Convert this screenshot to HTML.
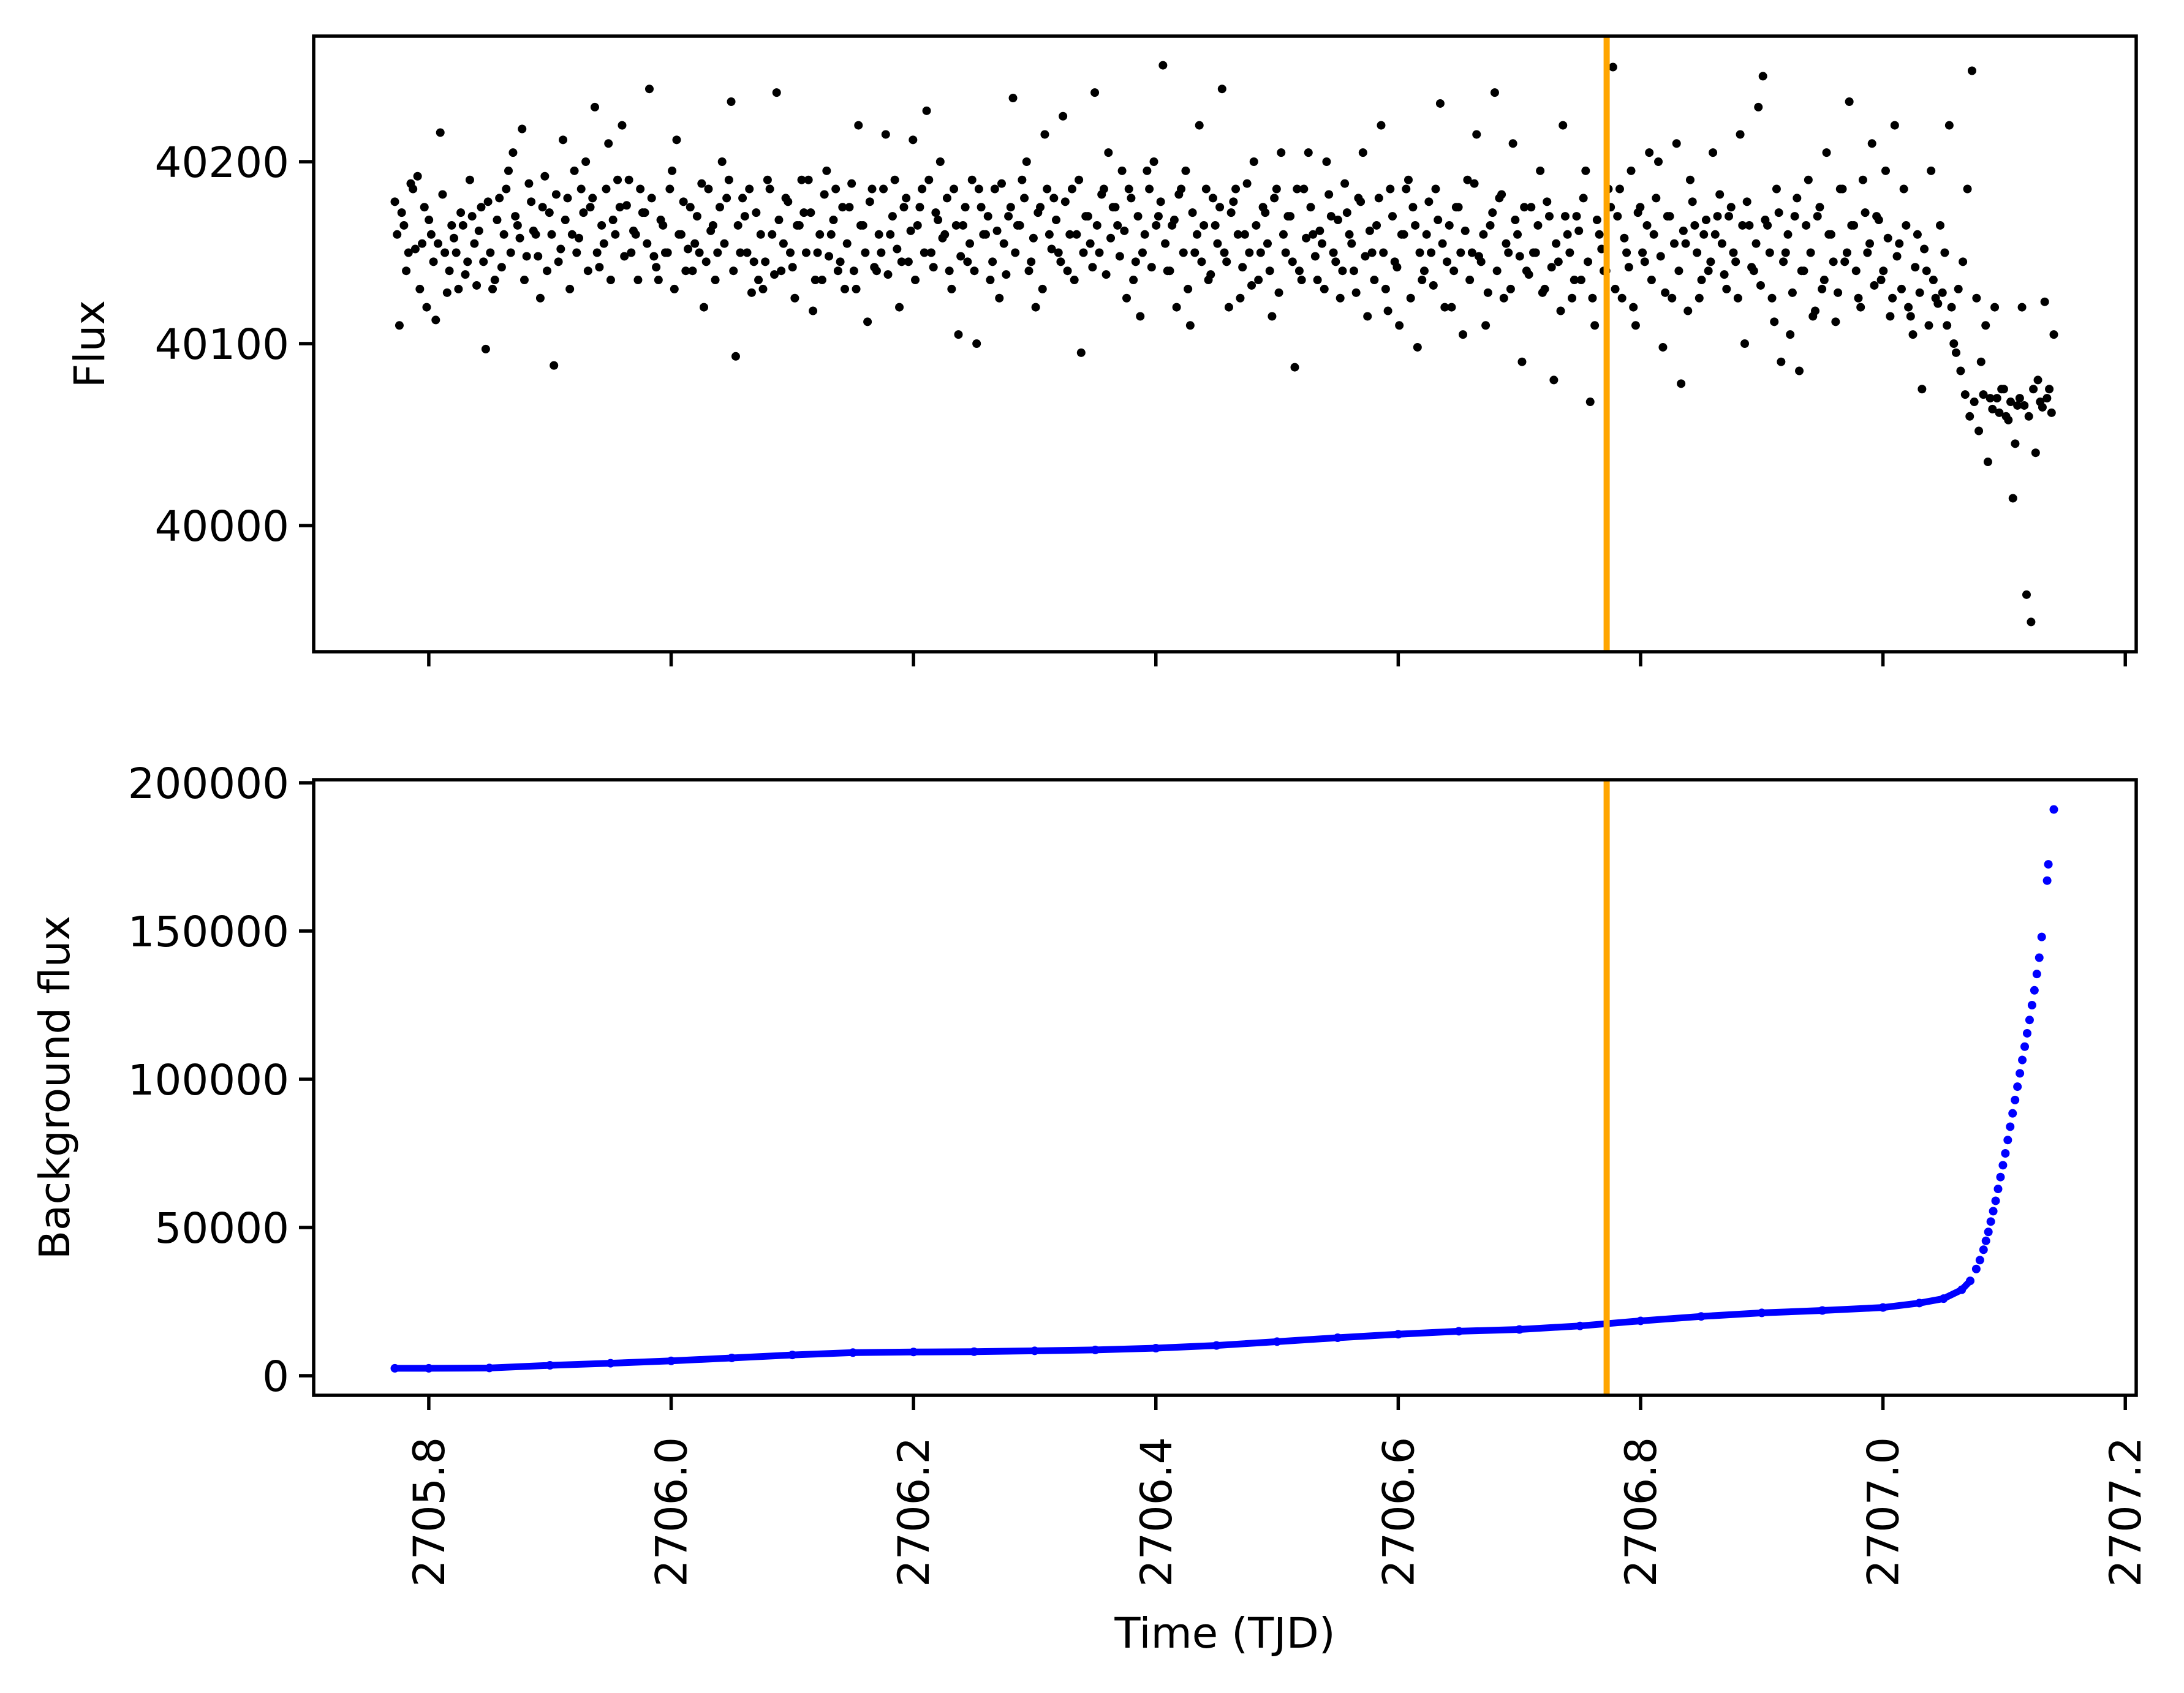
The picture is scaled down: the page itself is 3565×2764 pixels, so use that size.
<!DOCTYPE html>
<html><head><meta charset="utf-8"><style>
html,body{margin:0;padding:0;background:#fff}
svg{display:block}
text{font-family:"DejaVu Sans","Liberation Sans",sans-serif;fill:#000}
</style></head><body>
<svg id="chart" width="3565" height="2764" viewBox="0 0 3565 2764" xmlns="http://www.w3.org/2000/svg">
<rect width="3565" height="2764" fill="#fff"/>
<g id="topPanel"></g>
<g id="botPanel"></g>
</svg>
<script>
// ---- data ----
const fluxStart = 2705.772;
const fluxEnd = 2707.141;
const fluxValues = [
40178,40110,40165,40150,40185,40192,40155,40120,40160,40113,40216,40150,40140,40158,40130,40165,40145,40170,40132,40175,40097,40150,40135,40180,40160,40195,40205,40165,40218,40148,40178,40160,40125,40192,40172,40088,40145,40212,40180,40160,40150,40185,40200,40175,40230,40142,40155,40210,40168,40190,
40220,40176,40150,40160,40185,40172,40240,40148,40135,40165,40150,40195,40212,40160,40140,40175,40155,40150,40120,40185,40165,40150,40200,40180,40233,40093,40150,40170,40185,40145,40135,40130,40190,40160,40238,40140,40180,40150,40125,40165,
40172,40190,40118,40150,40135,40195,40160,40185,40145,40130,40175,40140,40220,40165,40112,40185,40140,40150,40215,40160,40190,40120,40175,40145,40212,40165,40185,40228,40150,40172,40200,40160,40140,40185,40105,40165,40145,40190,40100,40175,
40160,40135,40185,40125,40155,40170,40235,40165,40190,40200,40145,40120,40175,40215,40160,40180,40150,40225,40140,40185,40160,40095,40170,40155,40238,40150,40185,40205,40175,40165,40195,40125,40180,40145,40115,40160,40185,40200,40170,40253,
40140,40165,40120,40185,40195,40110,40150,40220,40165,40135,40180,40155,40240,40145,40172,40185,40125,40160,40150,40200,40135,40175,40155,40115,40185,40205,40150,40170,40087,40140,40185,40205,40160,40135,40155,40200,40170,40145,40125,40188,
40160,40140,40180,40205,40115,40150,40165,40220,40130,40185,40145,40110,40160,40190,40175,40098,40135,40160,40150,40185,40232,40120,40165,40140,40175,40105,40190,40150,40215,40145,40110,40165,40238,40180,40125,40150,40210,40160,40090,40140,
40175,40150,40195,40130,40170,40080,40145,40220,40160,40125,40170,40135,40195,40068,40110,40160,40140,40185,40252,40170,40125,40150,40195,40110,40175,40145,40205,40160,40200,40098,40170,40125,40210,40078,40155,40190,40165,40125,40160,40140,
40205,40170,40155,40130,40175,40145,40215,40100,40165,40140,40230,40247,40165,40125,40185,40090,40150,40105,40170,40085,40140,40190,40115,40170,40130,40205,40160,40112,40185,40145,40233,40165,40125,40190,40150,40210,40170,40135,40195,40115,
40220,40155,40185,40120,40105,40160,40075,40140,40195,40125,40165,40150,40220,40100,40130,40145,40185,40250,40125,40090,40110,40070,40120,40062,40075,40058,40015,40066,40120,39962,39947,40040,40068,40123,40075,40105
];
// interleaved cadences (between the points above)
const fluxValues2 = [
40160,40172,40140,40188,40152,40130,40175,40168,40145,40155,40182,40128,40165,40150,40172,40138,40190,40155,40162,40145,40178,40130,40168,40142,40185,40150,40170,40158,40135,40188,40162,40148,40175,40140,40160,40182,40152,40168,40130,40195,40158,40172,40140,40180,40150,40165,40185,40135,40160,40175,
40148,40190,40162,40135,40172,40155,40180,40142,40168,40150,40185,40130,40160,40178,40152,40140,40170,40188,40145,40162,40135,40175,40155,40190,40140,40165,40180,40150,40128,40172,40160,40145,40185,40138,40168,40155,40178,40142,40165,40190,
40150,40172,40135,40160,40182,40148,40168,40140,40175,40155,40188,40130,40165,40150,40178,40142,40160,40185,40138,40170,40152,40145,40180,40162,40135,40175,40150,40190,40142,40168,40158,40180,40130,40165,40148,40175,40155,40140,40185,40160,
40170,40145,40162,40188,40138,40175,40150,40165,40180,40140,40158,40172,40130,40185,40152,40168,40145,40178,40160,40135,40190,40150,40170,40142,40165,40182,40138,40158,40175,40148,40162,40185,40135,40170,40150,40195,40142,40165,40178,40155,
40140,40168,40182,40150,40130,40172,40160,40145,40185,40138,40165,40175,40150,40120,40178,40160,40142,40188,40132,40165,40150,40172,40140,40180,40128,40160,40170,40145,40185,40135,40158,40175,40148,40162,40130,40182,40150,40168,40140,40172,
40155,40128,40178,40148,40162,40135,40180,40150,40118,40170,40142,40160,40185,40125,40165,40150,40140,40178,40132,40168,40155,40145,40120,40175,40150,40162,40135,40188,40148,40160,40128,40172,40140,40182,40155,40130,40168,40148,40175,40138,
40150,40165,40128,40178,40142,40155,40118,40170,40150,40135,40162,40180,40145,40125,40168,40152,40140,40175,40130,40185,40158,40142,40120,40172,40150,40165,40135,40180,40148,40128,40170,40155,40140,40162,40118,40178,40150,40135,40168,40145,
40160,40182,40138,40170,40150,40125,40165,40178,40142,40155,40132,40168,40150,40112,40172,40145,40160,40128,40180,40140,40165,40150,40118,40175,40135,40160,40145,40128,40185,40150,40165,40140,40120,40172,40155,40132,40168,40140,40158,40125,
40148,40130,40165,40115,40142,40128,40152,40110,40135,40122,40128,40110,40120,40095,40085,40072,40060,40068,40052,40072,40035,40064,40070,40075,40060,40068,40045,40070,40066,40060,40075,40080,40065,40070,40062,40068
];
const bgTimes = [2705.772,2705.80,2705.85,2705.90,2705.95,2706.00,2706.05,2706.10,2706.15,2706.20,2706.25,2706.30,2706.35,2706.40,2706.45,2706.50,2706.55,2706.60,2706.65,2706.70,2706.75,2706.80,2706.85,2706.90,2706.95,2707.00,2707.03,2707.05,2707.065,2707.072,2707.077,2707.080,2707.083,2707.085,2707.087,2707.089,2707.091,2707.093,2707.095,2707.097,2707.099,2707.101,2707.103,2707.105,2707.107,2707.109,2707.111,2707.113,2707.115,2707.117,2707.119,2707.121,2707.123,2707.125,2707.127,2707.129,2707.131,2707.1355,2707.1365,2707.141];
const bgValues = [2500,2500,2600,3500,4200,5000,6000,7000,7800,8000,8100,8400,8700,9300,10200,11500,12800,14000,15000,15600,16800,18500,20000,21200,22000,23000,24500,26000,29000,32000,36000,39000,42500,45500,48500,52000,55500,59000,63000,67000,71000,75000,79500,84000,88500,93000,97500,102000,106500,111000,115500,120000,125000,130000,135500,141000,148000,167000,172500,191000];
const bgLineEnd = 2707.075;
const xTicks = [2705.8,2706.0,2706.2,2706.4,2706.6,2706.8,2707.0,2707.2];
const xTickLabels = ["2705.8","2706.0","2706.2","2706.4","2706.6","2706.8","2707.0","2707.2"];
const topYTicks = [40000,40100,40200];
const botYTicks = [0,50000,100000,150000,200000];
const markerTime = 2706.772;

// ---- geometry ----
const L=512,R=3487,T1=59,B1=1064,T2=1273,B2=2278;
const xMin=2705.705,xMax=2707.209;
const x=v=>L+(v-xMin)/(xMax-xMin)*(R-L);
const y1=v=>858-(v-40000)*2.97;
const y2=v=>2246-v*(968/200000);
const NS="http://www.w3.org/2000/svg";
function mk(tag,attrs,parent){const e=document.createElementNS(NS,tag);for(const k in attrs)e.setAttribute(k,attrs[k]);parent.appendChild(e);return e;}
const gTop=document.getElementById('topPanel'),gBot=document.getElementById('botPanel');

// top scatter
const n=fluxValues.length;
const step=(fluxEnd-fluxStart)/(n-1);
fluxValues.forEach((v,i)=>{
  const t=fluxStart+step*i;
  const c=mk('circle',{cx:x(t),cy:y1(v),r:7,fill:'#000'},gTop);
  
  
});
fluxValues2.forEach((v,i)=>{
  const t=fluxStart+step*(i+0.5);
  if(t>fluxEnd) return;
  const c=mk('circle',{cx:x(t),cy:y1(v),r:7,fill:'#000'},gTop);
  
  
});
// bottom line + points
let d='';let first=true;
bgTimes.forEach((t,i)=>{if(t<=bgLineEnd){d+=(first?'M':'L')+x(t)+' '+y2(bgValues[i]);first=false;}});
const pl=mk('path',{d:d,fill:'none',stroke:'#0000ff','stroke-width':11,'stroke-linejoin':'round','stroke-linecap':'round'},gBot);


bgTimes.forEach((t,i)=>{
  const c=mk('circle',{cx:x(t),cy:y2(bgValues[i]),r:7,fill:'#0000ff'},gBot);
  
  
});
// marker lines
[[gTop,T1,B1],[gBot,T2,B2]].forEach(([g,a,b])=>{
  const l=mk('line',{x1:x(markerTime),x2:x(markerTime),y1:a,y2:b,stroke:'#ffa500','stroke-width':10},g);
  
  
});
// frames
[[gTop,T1,B1],[gBot,T2,B2]].forEach(([g,a,b])=>{
  const r=mk('rect',{x:L,y:a,width:R-L,height:b-a,fill:'none',stroke:'#000','stroke-width':5.5},g);
  
  
});
// x ticks
xTicks.forEach((v,i)=>{
  const xx=x(v);
  const t1=mk('line',{x1:xx,x2:xx,y1:B1,y2:B1+24,stroke:'#000','stroke-width':5.5},gTop);
  
  
  const t2=mk('line',{x1:xx,x2:xx,y1:B2,y2:B2+24,stroke:'#000','stroke-width':5.5},gBot);
  
  
  const tx=mk('text',{x:xx+25,y:B2+68,'font-size':70,'text-anchor':'end',transform:`rotate(-90 ${xx+25} ${B2+68})`},gBot);
  tx.textContent=xTickLabels[i];
  
  
});
// y ticks
function yt(g,ticks,f){ticks.forEach(v=>{const yy=f(v);
  const l=mk('line',{x1:L-24,x2:L,y1:yy,y2:yy,stroke:'#000','stroke-width':5.5},g);
  
  
  const t=mk('text',{x:L-40,y:yy+25,'font-size':69,'text-anchor':'end'},g);
  t.textContent=String(v);
  
  
});}
yt(gTop,topYTicks,y1);yt(gBot,botYTicks,y2);
// axis titles
let a=mk('text',{x:170,y:(T1+B1)/2,'font-size':69,'text-anchor':'middle',transform:`rotate(-90 170 ${(T1+B1)/2})`},gTop);
a.textContent='Flux';


a=mk('text',{x:113,y:(T2+B2)/2,'font-size':69,'text-anchor':'middle',transform:`rotate(-90 113 ${(T2+B2)/2})`},gBot);
a.textContent='Background flux';


a=mk('text',{x:(L+R)/2,y:2690,'font-size':69,'text-anchor':'middle'},gBot);
a.textContent='Time (TJD)';


</script>
</body></html>
